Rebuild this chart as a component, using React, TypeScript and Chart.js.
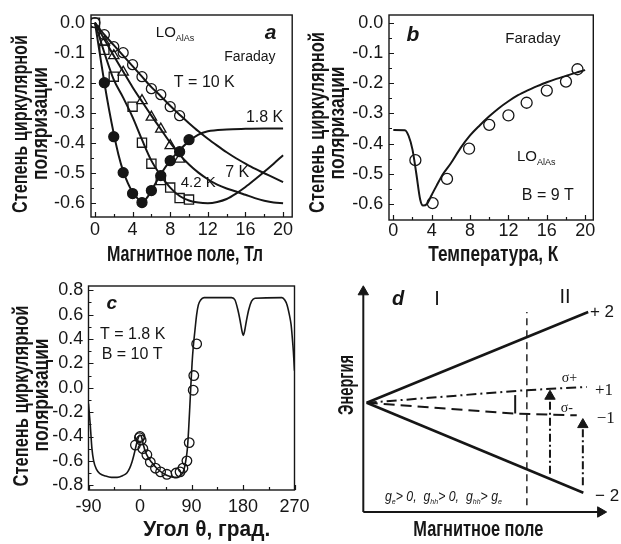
import { useEffect, useRef } from 'react';
import { Chart, registerables } from 'chart.js';

Chart.register(...registerables);

const INK = '#161616';
const SANS = "'Liberation Sans', Arial, Helvetica, sans-serif";
const SERIF = "'Liberation Serif', 'Times New Roman', serif";

const Y_TITLE_1 = 'Степень циркулярной';
const Y_TITLE_2 = 'поляризации';

// ---------- Panel a: polarization vs magnetic field ----------
const aField = [0, 1, 2, 3, 4, 5, 6, 7, 8, 9, 10, 11, 12, 13, 14, 15, 16, 17, 18, 19, 20];
const aLine10K = [0, -0.04, -0.075, -0.11, -0.145, -0.18, -0.215, -0.245, -0.277, -0.307, -0.335, -0.362, -0.387, -0.41, -0.432, -0.452, -0.47, -0.487, -0.502, -0.517, -0.532];
const aLine7K = [0, -0.055, -0.11, -0.163, -0.215, -0.263, -0.31, -0.355, -0.4, -0.44, -0.473, -0.5, -0.522, -0.54, -0.553, -0.563, -0.574, -0.585, -0.594, -0.6, -0.602];
const aLine42K = [0, -0.1, -0.19, -0.25, -0.315, -0.39, -0.46, -0.51, -0.55, -0.578, -0.593, -0.6, -0.602, -0.598, -0.588, -0.57, -0.548, -0.523, -0.497, -0.47, -0.442];
const aField18 = [0, 0.5, 1, 1.5, 2, 2.5, 3, 3.5, 4, 4.5, 5, 5.5, 6, 7, 8, 9, 10, 11, 12, 14, 16, 18, 20];
const aLine18K = [0, -0.1, -0.2, -0.29, -0.37, -0.44, -0.495, -0.535, -0.565, -0.585, -0.6, -0.585, -0.56, -0.505, -0.46, -0.425, -0.395, -0.373, -0.362, -0.356, -0.354, -0.353, -0.353];
const aPts10KField = [0, 1, 2, 3, 4, 5, 6, 7, 8, 9];
const aPts10K = [0, -0.04, -0.08, -0.1, -0.14, -0.18, -0.22, -0.24, -0.28, -0.31];
const aPts7KField = [1, 2, 3, 5, 6, 7, 8, 9];
const aPts7K = [-0.065, -0.11, -0.165, -0.26, -0.315, -0.355, -0.41, -0.455];
const aPts42KField = [0, 1, 2, 4, 5, 6, 7, 8, 9, 10];
const aPts42K = [0, -0.09, -0.18, -0.28, -0.4, -0.47, -0.525, -0.55, -0.585, -0.59];
const aPts18KField = [1, 2, 3, 4, 5, 6, 7, 8, 9, 10];
const aPts18K = [-0.2, -0.38, -0.5, -0.57, -0.6, -0.56, -0.51, -0.46, -0.43, -0.39];
const aFieldTicks = [0, 4, 8, 12, 16, 20];
const aFieldMinor = [2, 6, 10, 14, 18];
const aPolTicks = [0, -0.1, -0.2, -0.3, -0.4, -0.5, -0.6];
const aPolMinor = [-0.05, -0.15, -0.25, -0.35, -0.45, -0.55];

// ---------- Panel b: polarization vs temperature ----------
const bTemp = [0, 1.2, 1.6, 2.0, 2.4, 2.8, 3.1, 3.5, 4.0, 4.5, 5.2, 6, 7, 8, 9, 10, 11, 12, 13, 14, 15, 16, 17, 18, 19, 20];
const bLine = [-0.355, -0.356, -0.375, -0.42, -0.5, -0.585, -0.605, -0.6, -0.57, -0.54, -0.5, -0.465, -0.415, -0.373, -0.34, -0.31, -0.283, -0.26, -0.24, -0.224, -0.21, -0.197, -0.186, -0.176, -0.166, -0.157];
const bPtsTemp = [2.3, 4.1, 5.6, 7.9, 10, 12, 13.9, 16, 18, 19.2];
const bPts = [-0.455, -0.597, -0.517, -0.417, -0.338, -0.307, -0.265, -0.225, -0.195, -0.154];
const bTempTicks = [0, 4, 8, 12, 16, 20];
const bTempMinor = [2, 6, 10, 14, 18];

// ---------- Panel c: polarization vs angle ----------
const cAngle = [-90, -87, -84, -81, -76, -70, -60, -50, -40, -30, -23, -18, -14, -10, -6, -3, -1, 1, 3, 6, 9, 14, 20, 30, 40, 50, 60, 68, 73, 77, 80, 83, 85, 87, 89, 91, 93, 96, 99, 102, 106, 112, 160, 166, 171, 175, 178, 180.5, 183, 186, 190, 195, 201, 248, 253, 257, 261, 264, 266, 268, 269, 270];
const cLine = [-0.13, -0.3, -0.5, -0.6, -0.67, -0.705, -0.725, -0.735, -0.735, -0.72, -0.7, -0.66, -0.61, -0.54, -0.46, -0.41, -0.39, -0.39, -0.41, -0.47, -0.52, -0.57, -0.61, -0.665, -0.7, -0.725, -0.735, -0.73, -0.71, -0.67, -0.6, -0.49, -0.34, -0.16, 0.03, 0.2, 0.33, 0.47, 0.6, 0.68, 0.72, 0.74, 0.74, 0.72, 0.64, 0.55, 0.47, 0.43, 0.47, 0.55, 0.64, 0.71, 0.735, 0.74, 0.72, 0.68, 0.6, 0.52, 0.42, 0.3, 0.22, 0.14];
const cPtsAngle = [-8, -1, 0, 2, 5, 12, 18, 27, 36, 47, 63, 70, 75, 82, 86, 93, 94, 99];
const cPts = [-0.47, -0.41, -0.4, -0.43, -0.5, -0.55, -0.61, -0.66, -0.69, -0.71, -0.7, -0.69, -0.66, -0.6, -0.45, -0.02, 0.1, 0.36];
const cAngleTicks = [-90, 0, 90, 180, 270];
const cAngleMinor = [-45, 45, 135, 225];
const cPolTicks = [0.8, 0.6, 0.4, 0.2, 0, -0.2, -0.4, -0.6, -0.8];
const cPolMinor = [0.7, 0.5, 0.3, 0.1, -0.1, -0.3, -0.5, -0.7];

// ---------- Panel d: energy level scheme (arbitrary units) ----------
const dAxisXField = [0, 9.75];
const dAxisXEnergy = [0, 0];
const dAxisYField = [0, 0];
const dAxisYEnergy = [0, 9.7];
const dPlus2Field = [0.14, 9.24];
const dPlus2Energy = [4.81, 8.81];
const dMinus2Field = [0.14, 9.04];
const dMinus2Energy = [4.81, 0.85];
const dPlus1Field = [0.14, 6.58, 9.18];
const dPlus1Energy = [4.81, 5.36, 5.51];
const dMinus1Field = [0.14, 6.3, 8.77];
const dMinus1Energy = [4.81, 4.33, 4.26];
const dCrossField = [6.72, 6.72];
const dCrossEnergy = [0.3, 8.81];
const dGapField = [6.24, 6.24];
const dGapEnergy = [4.34, 5.15];
const dSigPlusField = [7.67, 7.67];
const dSigPlusEnergy = [1.69, 5.1];
const dSigMinusField = [9.02, 9.02];
const dSigMinusEnergy = [1.18, 3.85];

const xy = (xs: number[], ys: number[]) => xs.map((x, i) => ({ x, y: ys[i] }));

const lineDs = (xs: number[], ys: number[], extra: any = {}) => ({
  data: xy(xs, ys),
  showLine: true,
  borderColor: INK,
  borderWidth: 2,
  pointRadius: 0,
  fill: false,
  cubicInterpolationMode: 'monotone',
  ...extra,
});

const markDs = (xs: number[], ys: number[], style: string, radius: number, filled: boolean) => ({
  data: xy(xs, ys),
  showLine: false,
  pointStyle: style,
  pointRadius: radius,
  pointBorderColor: INK,
  pointBackgroundColor: filled ? INK : 'rgba(0,0,0,0)',
  pointBorderWidth: 1.3,
});

type Part = { t: string; sub?: boolean };
type Note = {
  x?: number; y?: number; px?: number; py?: number;
  text?: string; parts?: Part[]; size: number; weight?: string; style?: string;
  family?: string; align?: 'left' | 'center' | 'right'; rot?: number; w?: number;
};

const makeNotes = (items: Note[]) => ({
  id: 'notes',
  afterDraw(chart: any) {
    const { ctx, scales } = chart;
    for (const it of items) {
      const px = it.px !== undefined ? it.px : scales.x.getPixelForValue(it.x);
      const py = it.py !== undefined ? it.py : scales.y.getPixelForValue(it.y);
      const fam = it.family || SANS;
      const st = it.style || 'normal';
      const wt = it.weight || 'normal';
      const main = `${st} ${wt} ${it.size}px ${fam}`;
      const subSize = Math.round(it.size * 0.58);
      const subF = `${st} ${wt} ${subSize}px ${fam}`;
      const parts: Part[] = it.parts || [{ t: it.text || '' }];
      ctx.save();
      ctx.translate(px, py);
      if (it.rot) ctx.rotate(it.rot);
      ctx.fillStyle = INK;
      ctx.textBaseline = 'middle';
      ctx.textAlign = 'left';
      let total = 0;
      for (const p of parts) {
        ctx.font = p.sub ? subF : main;
        total += ctx.measureText(p.t).width;
      }
      if (it.w) {
        const sx = it.w / total;
        ctx.scale(sx, 1);
      }
      let x = it.align === 'center' ? -total / 2 : it.align === 'right' ? -total : 0;
      for (const p of parts) {
        ctx.font = p.sub ? subF : main;
        ctx.fillText(p.t, x, p.sub ? it.size * 0.35 : 0);
        x += ctx.measureText(p.t).width;
      }
      ctx.restore();
    }
  },
});

const makeFrame = (xMajor: number[], xMinor: number[], yMajor: number[], yMinor: number[]) => ({
  id: 'frameTicks',
  afterDatasetsDraw(chart: any) {
    const { ctx, chartArea: ca, scales } = chart;
    ctx.save();
    ctx.strokeStyle = INK;
    ctx.lineWidth = 1.4;
    ctx.strokeRect(ca.left, ca.top, ca.right - ca.left, ca.bottom - ca.top);
    ctx.lineWidth = 1.2;
    ctx.beginPath();
    const xt = (vals: number[], len: number) => {
      for (const v of vals) {
        const p = Math.round(scales.x.getPixelForValue(v)) + 0.5;
        ctx.moveTo(p, ca.bottom);
        ctx.lineTo(p, ca.bottom - len);
      }
    };
    const yt = (vals: number[], len: number) => {
      for (const v of vals) {
        const p = Math.round(scales.y.getPixelForValue(v)) + 0.5;
        ctx.moveTo(ca.left, p);
        ctx.lineTo(ca.left + len, p);
      }
    };
    xt(xMajor, 5); xt(xMinor, 3); yt(yMajor, 5); yt(yMinor, 3);
    ctx.stroke();
    ctx.restore();
  },
});

type FrameCfg = {
  padding: any; xMin: number; xMax: number; yMin: number; yMax: number;
  xTicks: number[]; yTicks: number[]; xHeight: number; yWidth: number;
  xTickPad: number; yTickPad: number; yFmt: (v: number) => string;
};

const framedOptions = (c: FrameCfg) => ({
  animation: false,
  responsive: false,
  devicePixelRatio: 1,
  events: [],
  layout: { padding: c.padding },
  plugins: { legend: { display: false }, tooltip: { enabled: false } },
  scales: {
    x: {
      type: 'linear', position: 'bottom', min: c.xMin, max: c.xMax,
      grid: { display: false, drawTicks: false }, border: { display: false },
      ticks: {
        font: { family: SANS, size: 18 }, color: INK, padding: c.xTickPad,
        maxRotation: 0, autoSkip: false, callback: (v: any) => String(v),
      },
      afterBuildTicks: (s: any) => { s.ticks = c.xTicks.map((value) => ({ value })); },
      afterFit: (s: any) => { s.height = c.xHeight; s.paddingLeft = 0; s.paddingRight = 0; },
      title: { display: false },
    },
    y: {
      type: 'linear', position: 'left', min: c.yMin, max: c.yMax,
      grid: { display: false, drawTicks: false }, border: { display: false },
      ticks: {
        font: { family: SANS, size: 18 }, color: INK, padding: c.yTickPad,
        autoSkip: false, callback: (v: any) => c.yFmt(Number(v)),
      },
      afterBuildTicks: (s: any) => { s.ticks = c.yTicks.map((value) => ({ value })); },
      afterFit: (s: any) => { s.width = c.yWidth; s.paddingTop = 0; s.paddingBottom = 0; },
      title: { display: false },
    },
  },
});

const fmt1 = (v: number) => v.toFixed(1);
const LO = [{ t: 'LO' }, { t: 'AlAs', sub: true }];
const TITLE = { size: 22, weight: 'bold', align: 'center' as const };
const UP = -Math.PI / 2;

export default function App() {
  const aRef = useRef<HTMLCanvasElement>(null);
  const bRef = useRef<HTMLCanvasElement>(null);
  const cRef = useRef<HTMLCanvasElement>(null);
  const dRef = useRef<HTMLCanvasElement>(null);

  useEffect(() => {
    const charts: Chart[] = [];

    charts.push(new Chart(aRef.current as HTMLCanvasElement, {
      type: 'scatter',
      data: {
        datasets: [
          lineDs(aField, aLine10K),
          lineDs(aField, aLine7K),
          lineDs(aField, aLine42K),
          lineDs(aField18, aLine18K),
          markDs(aPts10KField, aPts10K, 'circle', 5, false),
          markDs(aPts7KField, aPts7K, 'triangle', 6, false),
          markDs(aPts42KField, aPts42K, 'rect', 6.5, false),
          markDs(aPts18KField, aPts18K, 'circle', 5, true),
        ] as any,
      },
      options: framedOptions({
        padding: { left: 0, top: 15, right: 5, bottom: 0 },
        xMin: -0.42, xMax: 20.97, yMin: -0.648, yMax: 0.0257,
        xTicks: aFieldTicks, yTicks: aPolTicks, xHeight: 55, yWidth: 91,
        xTickPad: 2, yTickPad: 6, yFmt: fmt1,
      }) as any,
      plugins: [
        makeFrame(aFieldTicks, aFieldMinor, aPolTicks, aPolMinor),
        makeNotes([
          { x: 6.47, y: -0.034, parts: LO, size: 15 },
          { x: 18.67, y: -0.034, text: 'a', size: 21, weight: 'bold', style: 'italic', align: 'center' },
          { x: 16.47, y: -0.114, text: 'Faraday', size: 14, align: 'center' },
          { x: 8.39, y: -0.201, text: 'T = 10 K', size: 16 },
          { x: 16.05, y: -0.318, text: '1.8 K', size: 16 },
          { x: 13.84, y: -0.501, text: '7 K', size: 16 },
          { x: 9.12, y: -0.534, text: '4.2 K', size: 15 },
          { ...TITLE, px: 185, py: 255, text: 'Магнитное поле, Тл', w: 156 },
          { ...TITLE, px: 20.7, py: 124, text: Y_TITLE_1, w: 178, rot: UP },
          { ...TITLE, px: 40.7, py: 123.5, text: Y_TITLE_2, w: 113, rot: UP },
        ]),
      ],
    }));

    charts.push(new Chart(bRef.current as HTMLCanvasElement, {
      type: 'scatter',
      data: {
        datasets: [
          lineDs(bTemp, bLine),
          markDs(bPtsTemp, bPts, 'circle', 5.5, false),
        ] as any,
      },
      options: framedOptions({
        padding: { left: 0, top: 15, right: 27.7, bottom: 0 },
        xMin: -0.45, xMax: 20.85, yMin: -0.653, yMax: 0.0255,
        xTicks: bTempTicks, yTicks: aPolTicks, xHeight: 52, yWidth: 89,
        xTickPad: 0, yTickPad: 5.7, yFmt: fmt1,
      }) as any,
      plugins: [
        makeFrame(bTempTicks, bTempMinor, aPolTicks, aPolMinor),
        makeNotes([
          { x: 2.05, y: -0.041, text: 'b', size: 21, weight: 'bold', style: 'italic', align: 'center' },
          { x: 14.55, y: -0.052, text: 'Faraday', size: 15, align: 'center' },
          { x: 12.89, y: -0.445, parts: LO, size: 15 },
          { x: 13.4, y: -0.571, text: 'B = 9 T', size: 16 },
          { ...TITLE, px: 193.3, py: 255, text: 'Температура, К', w: 130 },
          { ...TITLE, px: 17.7, py: 122.5, text: Y_TITLE_1, w: 181, rot: UP },
          { ...TITLE, px: 37.7, py: 123, text: Y_TITLE_2, w: 113, rot: UP },
        ]),
      ],
    }));

    charts.push(new Chart(cRef.current as HTMLCanvasElement, {
      type: 'scatter',
      data: {
        datasets: [
          lineDs(cAngle, cLine, { borderWidth: 1.6 }),
          markDs(cPtsAngle, cPts, 'circle', 4.8, false),
        ] as any,
      },
      options: framedOptions({
        padding: { left: 0, top: 14, right: 17.5, bottom: 0 },
        xMin: -90, xMax: 270, yMin: -0.839, yMax: 0.835,
        xTicks: cAngleTicks, yTicks: cPolTicks, xHeight: 54, yWidth: 88.5,
        xTickPad: 6, yTickPad: 5.2, yFmt: fmt1,
      }) as any,
      plugins: [
        makeFrame(cAngleTicks, cAngleMinor, cPolTicks, cPolMinor),
        makeNotes([
          { x: -49.5, y: 0.69, text: 'c', size: 19, weight: 'bold', style: 'italic', align: 'center' },
          { x: -69.9, y: 0.433, text: 'T = 1.8 K', size: 16 },
          { x: -66.9, y: 0.269, text: 'B = 10 T', size: 16 },
          { ...TITLE, px: 206.7, py: 258, text: 'Угол θ, град.', w: 127 },
          { ...TITLE, px: 21.7, py: 124, text: Y_TITLE_1, w: 181, rot: UP },
          { ...TITLE, px: 41.7, py: 123, text: Y_TITLE_2, w: 113, rot: UP },
        ]),
      ],
    }));

    const arrowHead = (rot: number) => ({
      pointRadius: [0, 6],
      pointStyle: 'triangle',
      pointRotation: rot,
      pointBackgroundColor: INK,
      pointBorderColor: INK,
      pointBorderWidth: 1,
      cubicInterpolationMode: 'default',
      tension: 0,
      clip: false,
    });
    const straight = { tension: 0, cubicInterpolationMode: 'default', clip: false };

    charts.push(new Chart(dRef.current as HTMLCanvasElement, {
      type: 'scatter',
      data: {
        datasets: [
          lineDs(dAxisXField, dAxisXEnergy, { ...arrowHead(90), borderWidth: 2 }),
          lineDs(dAxisYField, dAxisYEnergy, { ...arrowHead(0), borderWidth: 2 }),
          lineDs(dPlus2Field, dPlus2Energy, { ...straight, borderWidth: 2.6 }),
          lineDs(dMinus2Field, dMinus2Energy, { ...straight, borderWidth: 2.6 }),
          lineDs(dPlus1Field, dPlus1Energy, { ...straight, borderWidth: 2, borderDash: [10, 4, 2, 4] }),
          lineDs(dMinus1Field, dMinus1Energy, { ...straight, borderWidth: 2, borderDash: [11, 6] }),
          lineDs(dCrossField, dCrossEnergy, { ...straight, borderWidth: 1.4, borderDash: [7, 5] }),
          lineDs(dGapField, dGapEnergy, { ...straight, borderWidth: 2 }),
          lineDs(dSigPlusField, dSigPlusEnergy, { ...arrowHead(0), borderWidth: 2, borderDash: [8, 3, 2, 3] }),
          lineDs(dSigMinusField, dSigMinusEnergy, { ...arrowHead(0), borderWidth: 2, borderDash: [8, 3, 2, 3] }),
        ] as any,
      },
      options: {
        animation: false,
        responsive: false,
        devicePixelRatio: 1,
        events: [],
        layout: { padding: { left: 63.3, top: 13, right: 14.3, bottom: 32 } },
        plugins: { legend: { display: false }, tooltip: { enabled: false } },
        scales: {
          x: { type: 'linear', display: false, min: 0, max: 10 },
          y: { type: 'linear', display: false, min: 0, max: 10 },
        },
      } as any,
      plugins: [
        makeNotes([
          { x: 1.43, y: 9.38, text: 'd', size: 20, weight: 'bold', style: 'italic', align: 'center' },
          { x: 3.03, y: 9.34, text: 'I', size: 20, align: 'center' },
          { x: 8.29, y: 9.47, text: 'II', size: 20, align: 'center' },
          { x: 9.31, y: 8.81, text: '+ 2', size: 17 },
          { x: 9.52, y: 5.37, text: '+1', size: 17, family: SERIF },
          { x: 9.59, y: 4.11, text: '\u22121', size: 17, family: SERIF },
          { x: 9.52, y: 0.7, text: '\u2212 2', size: 17 },
          { x: 8.15, y: 5.87, text: 'σ+', size: 14, family: SERIF },
          { x: 8.11, y: 4.55, text: 'σ-', size: 14, family: SERIF },
          {
            x: 0.89, y: 0.66, size: 14, style: 'italic', w: 117,
            parts: [
              { t: 'g' }, { t: 'e', sub: true }, { t: '> 0,  g' }, { t: 'hh', sub: true },
              { t: '> 0,  g' }, { t: 'hh', sub: true }, { t: '> g' }, { t: 'e', sub: true },
            ],
          },
          { ...TITLE, px: 46.7, py: 113, text: 'Энергия', w: 60, rot: UP },
          { ...TITLE, px: 178.3, py: 258, text: 'Магнитное поле', w: 130 },
        ]),
      ],
    }));

    return () => charts.forEach((ch) => ch.destroy());
  }, []);

  const pos = (left: number, top: number) => ({ position: 'absolute' as const, left, top });

  return (
    <div style={{ position: 'absolute', left: 0, top: 0, width: 621, height: 544, background: '#fff', overflow: 'hidden' }}>
      <canvas ref={aRef} width={300} height={272} style={pos(0, 0)} />
      <canvas ref={bRef} width={321} height={272} style={pos(300, 0)} />
      <canvas ref={cRef} width={312} height={272} style={pos(0, 272)} />
      <canvas ref={dRef} width={321} height={272} style={pos(300, 272)} />
    </div>
  );
}
